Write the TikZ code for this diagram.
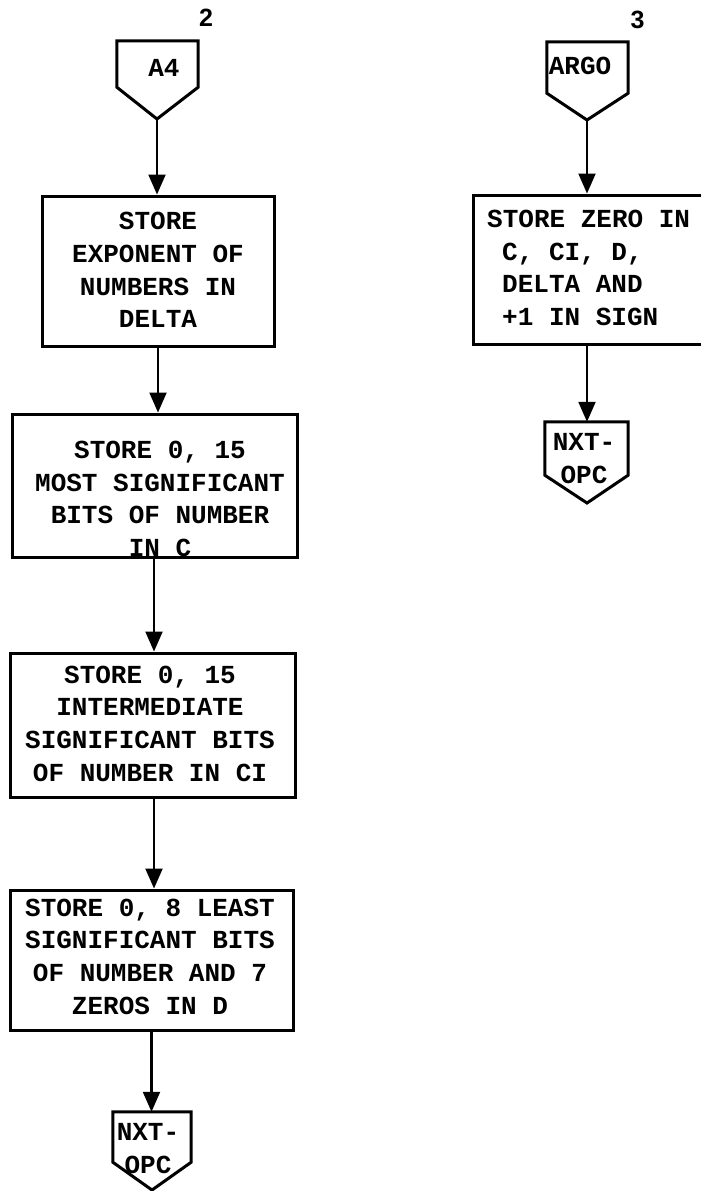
\documentclass[tikz,border=0pt]{standalone}
\usepackage{fontspec}
\setmainfont{Liberation Sans}
\setmonofont{Liberation Mono}
\usetikzlibrary{arrows.meta,calc}
\begin{document}
\begin{tikzpicture}[x=1pt,y=-1pt,
  boxline/.style={draw,line width=3pt,line join=miter},
  stepbox/.style={boxline,rectangle,inner sep=0pt},
  tagrect/.style={rectangle,inner sep=0pt},
  txt/.style={inner sep=0pt,align=center,font=\ttfamily\bfseries\fontsize{26}{32.7}\selectfont},
  flow/.style={line width=2.2pt,-{Triangle[width=17pt,length=20pt]}},
  pagenum/.style={inner sep=0pt,font=\bfseries\fontsize{25}{25}\selectfont}]
\useasboundingbox (0,0) rectangle (701,1191);
\clip (0,0) rectangle (701,1191);

% page numbers
\node[pagenum] (n2) at (206,18) {2};
\node[pagenum] (n3) at (637.5,20) {3};

% ---- left column ----
% entry connector A4
\node[tagrect,minimum width=81pt,minimum height=46pt] (a4) at (157.5,64) {};
\coordinate (a4tip) at (157,119);
\draw[boxline] (a4.north west) -- (a4.north east) -- (a4.south east) -- (a4tip) -- (a4.south west) -- cycle;
\node[txt] (a4t) at (164,68) {A4};

\node[stepbox,minimum width=232pt,minimum height=150pt] (b1) at (158,271) {};
\node[txt] (b1t) at (158,270) {STORE\\EXPONENT OF\\NUMBERS IN\\DELTA};

\node[stepbox,minimum width=285pt,minimum height=143pt] (b2) at (154.5,485.5) {};
\node[txt] (b2t) at (160,499) {STORE 0, 15\\MOST SIGNIFICANT\\BITS OF NUMBER\\IN C};

\node[stepbox,minimum width=285pt,minimum height=144pt] (b3) at (152.5,725) {};
\node[txt] (b3t) at (150,723.5) {STORE 0, 15\\INTERMEDIATE\\SIGNIFICANT BITS\\OF NUMBER IN CI};

\node[stepbox,minimum width=283pt,minimum height=140pt] (b4) at (151.5,960) {};
\node[txt] (b4t) at (150,956.5) {STORE 0, 8 LEAST\\SIGNIFICANT BITS\\OF NUMBER AND 7\\ZEROS IN D};

% exit connector NXT-OPC
\node[tagrect,minimum width=78pt,minimum height=50pt] (x1) at (152,1137) {};
\coordinate (x1tip) at (152,1190);
\draw[boxline] (x1.north west) -- (x1.north east) -- (x1.south east) -- (x1tip) -- (x1.south west) -- cycle;
\node[txt] (x1t) at (148,1148.5) {NXT-\\OPC};

\draw[flow] (a4tip) -- (a4tip |- b1.north);
\draw[flow] (b1.south) -- (b1.south |- b2.north);
\draw[flow] ($(b2.south)+(-0.5,0)$) -- ($(b2.south |- b3.north)+(-0.5,0)$);
\draw[flow] ($(b3.south)+(1.5,0)$) -- ($(b3.south |- b4.north)+(1.5,0)$);
\draw[flow] (b4.south) -- (b4.south |- x1.north);

% ---- right column ----
\node[tagrect,minimum width=81pt,minimum height=51pt] (argo) at (587.5,67.5) {};
\coordinate (argotip) at (587,120);
\draw[boxline] (argo.north west) -- (argo.north east) -- (argo.south east) -- (argotip) -- (argo.south west) -- cycle;
\node[txt] (argot) at (580,66) {ARGO};

\node[stepbox,minimum width=250pt,minimum height=149pt] (rb) at (598,269.5) {};
\node[txt,align=left,anchor=north west] (rbt) at (487,210) {STORE ZERO IN\\\hspace*{15pt}C, CI, D,\\\hspace*{15pt}DELTA AND\\\hspace*{15pt}+1 IN SIGN};

\node[tagrect,minimum width=83pt,minimum height=53pt] (x2) at (586.5,448.5) {};
\coordinate (x2tip) at (587,503);
\draw[boxline] (x2.north west) -- (x2.north east) -- (x2.south east) -- (x2tip) -- (x2.south west) -- cycle;
\node[txt] (x2t) at (584,458.5) {NXT-\\OPC};

\draw[flow] (argotip) -- (argotip |- rb.north);
\draw[flow] (argotip |- rb.south) -- (argotip |- x2.north);
\end{tikzpicture}
\end{document}
